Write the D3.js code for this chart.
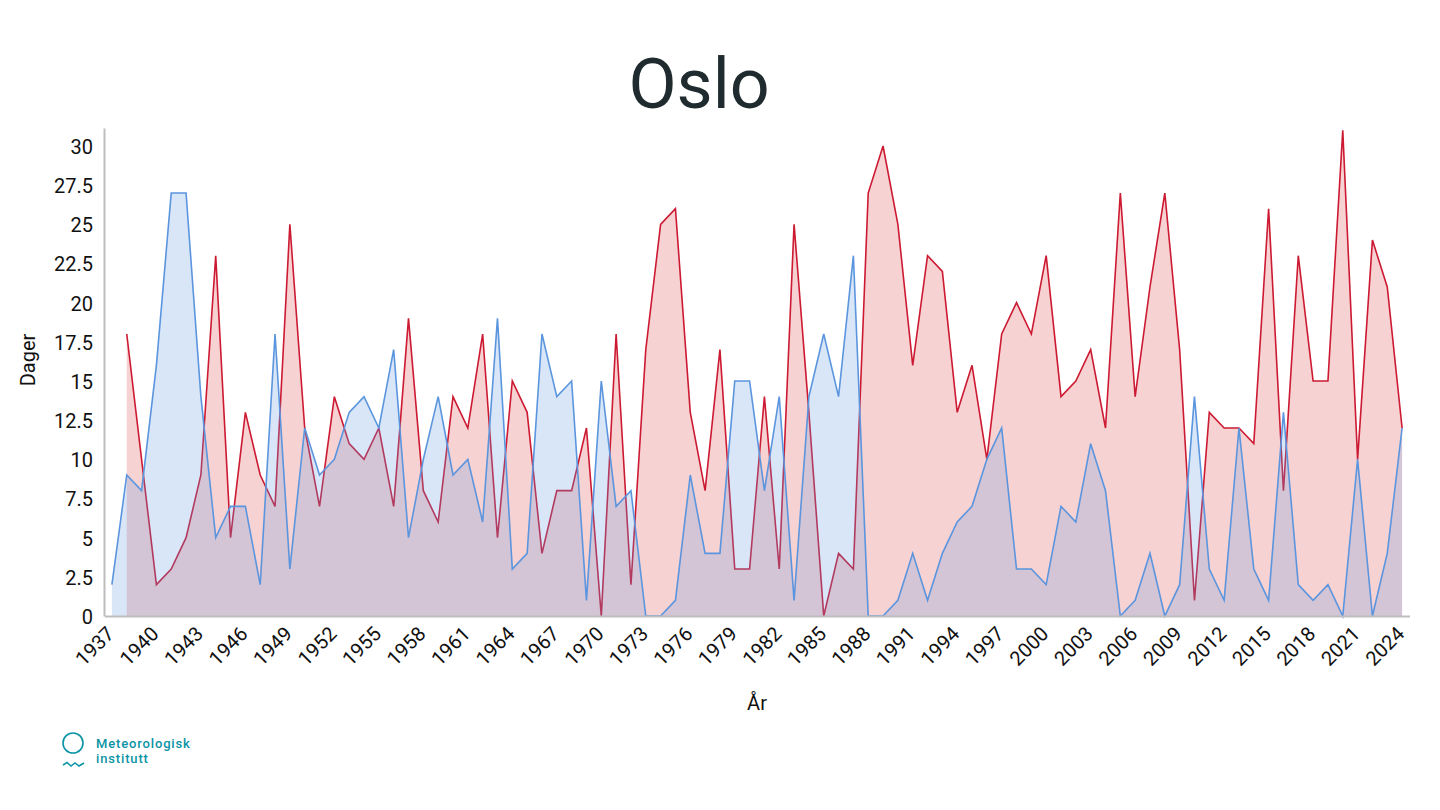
<!DOCTYPE html>
<html>
<head>
<meta charset="utf-8">
<title>Oslo</title>
<script src="https://cdnjs.cloudflare.com/ajax/libs/d3/7.8.5/d3.min.js"></script>
<style>
	html, body { margin: 0; padding: 0; background: #fff; }
	svg { display: block; }
	text { font-family: Roboto, sans-serif; fill: #111; }
	.axis text { font-size: 20px; }
	.axis path { stroke: #bdbdbd; stroke-width: 2px; }
</style>
</head>
<body>
<div id="chart-area"></div>
<script>

// Values, one entry per year from 1937
var years = d3.range(1937, 2025);

var redDays = [null, 18, 10, 2, 3, 5, 9, 23, 5, 13, 9, 7, 25, 12, 7, 14, 11, 10, 12, 7, 19, 8, 6,
	14, 12, 18, 5, 15, 13, 4, 8, 8, 12, 0, 18, 2, 17, 25, 26, 13, 8, 17, 3, 3, 14, 3, 25, 13, 0, 4, 3,
	27, 30, 25, 16, 23, 22, 13, 16, 10, 18, 20, 18, 23, 14, 15, 17, 12, 27, 14, 21, 27, 17, 1, 13, 12,
	12, 11, 26, 8, 23, 15, 15, 31, 10, 24, 21, 12];

var blueDays = [2, 9, 8, 16, 27, 27, 14, 5, 7, 7, 2, 18, 3, 12, 9, 10, 13, 14, 12, 17, 5, 10, 14,
	9, 10, 6, 19, 3, 4, 18, 14, 15, 1, 15, 7, 8, 0, 0, 1, 9, 4, 4, 15, 15, 8, 14, 1, 14, 18, 14, 23,
	0, 0, 1, 4, 1, 4, 6, 7, 10, 12, 3, 3, 2, 7, 6, 11, 8, 0, 1, 4, 0, 2, 14, 3, 1, 12, 3, 1, 13, 2,
	1, 2, 0, 10, 0, 4, 12];

var xTickYears = years.filter(function (d) { return (d - 1937) % 3 === 0; });
var yTickValues = [0, 2.5, 5, 7.5, 10, 12.5, 15, 17.5, 20, 22.5, 25, 27.5, 30];

// SVG Size
var width = 1440,
	height = 810;

var left = 104,
	right = 1409,
	top_ = 128,
	bottom = 616;

var mainSvg = d3.select('#chart-area')
	.append('svg')
	.attr('width', width)
	.attr('height', height);

var xScale = d3.scalePoint()
	.domain(years)
	.range([left + 0.5, right + 0.5])
	.padding(0.5);

var yScale = d3.scaleLinear()
	.domain([0, 31.15])
	.range([bottom, top_]);

function drawSeries(values, lineColor, fillColor) {
	var area = d3.area()
		.defined(function (d) { return d !== null; })
		.x(function (d, i) { return xScale(years[i]); })
		.y0(yScale(0))
		.y1(function (d) { return yScale(d); });

	var line = d3.line()
		.defined(function (d) { return d !== null; })
		.x(function (d, i) { return xScale(years[i]); })
		.y(function (d) { return yScale(d); });

	mainSvg.append('path')
		.datum(values)
		.attr('d', area)
		.attr('fill', fillColor)
		.attr('fill-opacity', 0.25);

	mainSvg.append('path')
		.datum(values)
		.attr('d', line)
		.attr('fill', 'none')
		.attr('stroke', lineColor)
		.attr('stroke-width', 1.6);
}

drawSeries(redDays, '#cc1a33', '#e04a4a');
drawSeries(blueDays, '#5b95de', '#689be3');

// Draw the axis
var xAxis = d3.axisBottom()
	.scale(xScale)
	.tickValues(xTickYears)
	.tickSize(0)
	.tickPadding(8);

var yAxis = d3.axisLeft()
	.scale(yScale)
	.tickValues(yTickValues)
	.tickFormat(function (d) { return String(d); })
	.tickSize(0)
	.tickPadding(11);

mainSvg.append('g')
	.attr('class', 'axis x-axis')
	.attr('transform', 'translate(0,' + bottom + ')')
	.call(xAxis)
	.selectAll('text')
	.attr('text-anchor', 'end')
	.attr('dx', '-0.565em')
	.attr('dy', '0.385em')
	.attr('transform', 'rotate(-45)');

mainSvg.append('g')
	.attr('class', 'axis y-axis')
	.attr('transform', 'translate(' + left + ',0)')
	.call(yAxis)
	.selectAll('text')
	.attr('dy', '0.37em');

// Title and axis titles
mainSvg.append('text')
	.attr('x', 699)
	.attr('y', 108)
	.attr('text-anchor', 'middle')
	.style('font-size', '70px')
	.style('fill', '#202b30')
	.text('Oslo');

mainSvg.append('text')
	.attr('text-anchor', 'middle')
	.attr('transform', 'translate(35,360)rotate(-90)')
	.style('font-size', '20px')
	.text('Dager');

mainSvg.append('text')
	.attr('x', 757)
	.attr('y', 710)
	.attr('text-anchor', 'middle')
	.style('font-size', '20px')
	.text('År');

// Logo
var logoColor = '#0a93a5';
var logo = mainSvg.append('g');

logo.append('circle')
	.attr('cx', 73)
	.attr('cy', 743)
	.attr('r', 10)
	.attr('fill', 'none')
	.attr('stroke', logoColor)
	.attr('stroke-width', 1.6);

logo.append('path')
	.attr('d', 'M63,765 L67,762.5 L71,766 L75,763 L79,766 L84,763')
	.attr('fill', 'none')
	.attr('stroke', logoColor)
	.attr('stroke-width', 1.5);

logo.append('text')
	.attr('x', 96)
	.attr('y', 748)
	.style('font-size', '13px')
	.style('font-weight', 500)
	.style('letter-spacing', '0.85px')
	.style('fill', logoColor)
	.text('Meteorologisk');

logo.append('text')
	.attr('x', 96)
	.attr('y', 762.5)
	.style('font-size', '13px')
	.style('font-weight', 500)
	.style('letter-spacing', '0.85px')
	.style('fill', logoColor)
	.text('institutt');

</script>
</body>
</html>
